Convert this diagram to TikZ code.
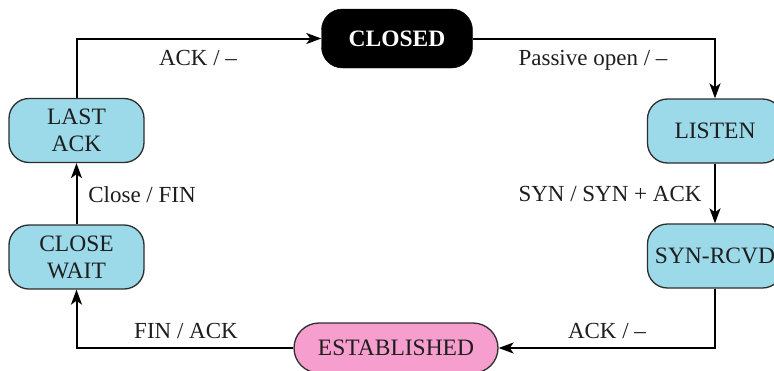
\documentclass[tikz,border=0pt]{standalone}
\usepackage{fontspec}
\setmainfont{Liberation Serif}
\usetikzlibrary{arrows.meta}
\definecolor{statecyan}{RGB}{156,218,234}
\definecolor{statepink}{RGB}{246,158,206}
\definecolor{boxedge}{RGB}{45,45,45}
\definecolor{txt}{RGB}{30,30,30}
\tikzset{
  state/.style={draw=boxedge, line width=1.3pt, fill=statecyan, rounded corners=20pt,
    minimum width=135pt, minimum height=64pt, inner sep=0pt, align=center,
    text=txt, font=\fontsize{23.5}{27}\selectfont},
  closedst/.style={fill=black, draw=black, rounded corners=21pt,
    minimum width=151pt, minimum height=59pt, inner sep=0pt,
    text=white, font=\fontsize{23.5}{27}\selectfont\bfseries},
  estab/.style={draw=boxedge, line width=1.3pt, fill=statepink, rounded corners=25pt,
    minimum width=204pt, minimum height=50pt, inner sep=0pt,
    text=txt, font=\fontsize{23.5}{27}\selectfont},
  lbl/.style={text=txt, inner sep=0pt, font=\fontsize{23}{27}\selectfont},
  conn/.style={line width=2pt, -{Stealth[length=15pt,width=11pt,inset=4pt]}},
}
\begin{document}
\begin{tikzpicture}[x=1pt,y=-1pt]
\clip (0,0) rectangle (774,370);
\fill[white] (0,0) rectangle (774,370);

\node[closedst] (closed) at (397,38.5) {CLOSED};
\node[state] (listen) at (715,131) {LISTEN};
\node[state] (synrcvd) at (715,256) {SYN-RCVD};
\node[estab] (estab) at (396,348) {ESTABLISHED};
\node[state] (closewait) at (76.5,257) {CLOSE\\WAIT};
\node[state] (lastack) at (76.5,130.5) {LAST\\ACK};

\draw[conn] (lastack.north) |- (closed.west);
\draw[conn] (closed.east) -| (listen.north);
\draw[conn] (listen.south) -- (synrcvd.north);
\draw[conn] (synrcvd.south) |- (estab.east);
\draw[conn] (estab.west) -| (closewait.south);
\draw[conn] (closewait.north) -- (lastack.south);

\node[lbl] (l1) at (198,58) {ACK / –};
\node[lbl] (l2) at (593,60) {Passive open / –};
\node[lbl] (l3) at (610,194) {SYN / SYN + ACK};
\node[lbl] (l4) at (142,195) {Close / FIN};
\node[lbl] (l5) at (186,331) {FIN / ACK};
\node[lbl] (l6) at (607,331) {ACK / –};
\end{tikzpicture}
\end{document}
